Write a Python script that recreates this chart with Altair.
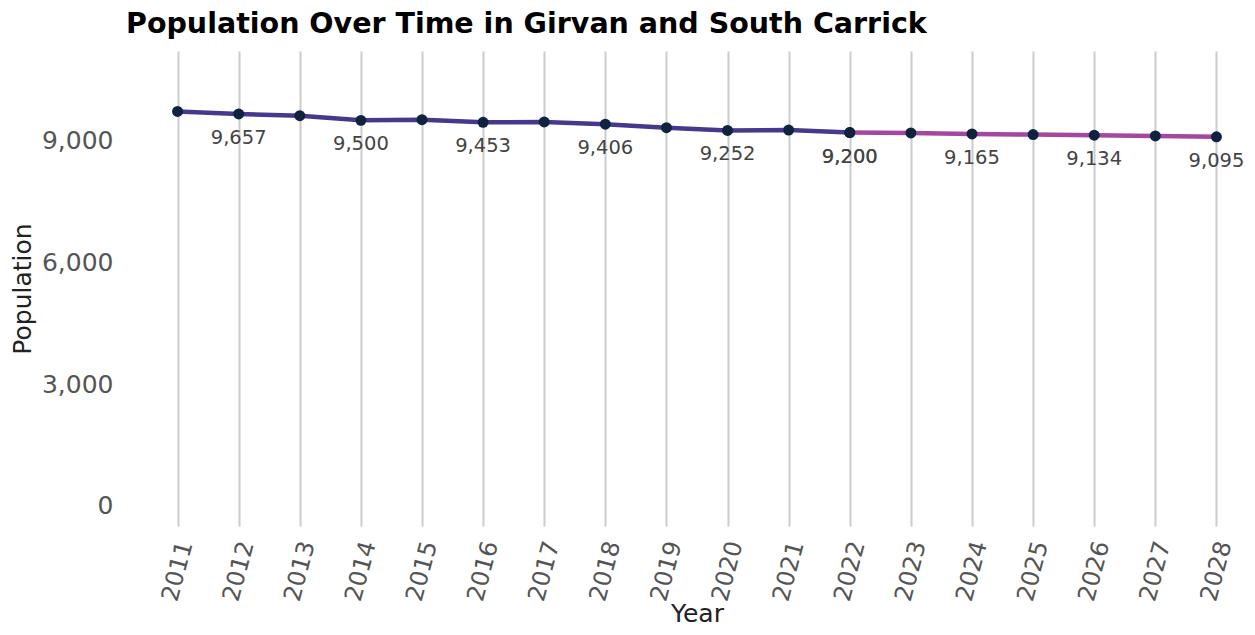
import altair as alt
import pandas as pd

# ---- data ----
years_hist = [2011, 2012, 2013, 2014, 2015, 2016, 2017, 2018, 2019, 2020, 2021, 2022]
pop_hist = [9720, 9657, 9615, 9500, 9517, 9453, 9460, 9406, 9320, 9252, 9262, 9200]
years_proj = [2022, 2023, 2024, 2025, 2026, 2027, 2028]
pop_proj = [9200, 9190, 9165, 9150, 9134, 9115, 9095]
label_years_hist = [2012, 2014, 2016, 2018, 2020, 2022]
label_years_proj = [2022, 2024, 2026, 2028]
series_names = ["Historical", "Projected"]
series_colors = ["#46388c", "#a3479f"]
x_ticks = list(range(2011, 2029))
y_ticks = [0, 3000, 6000, 9000]

rows = []
for yr, v in zip(years_hist, pop_hist):
    rows.append({"Year": yr, "Population": v, "Series": series_names[0],
                 "Label": yr in label_years_hist})
for yr, v in zip(years_proj, pop_proj):
    rows.append({"Year": yr, "Population": v, "Series": series_names[1],
                 "Label": yr in label_years_proj})
df = pd.DataFrame(rows)

FONT = "DejaVu Sans"

x_enc = alt.X(
    "Year:Q",
    scale=alt.Scale(domain=[2010.5, 2028.5], nice=False, zero=False),
    axis=alt.Axis(
        values=x_ticks, format="d", labelAngle=285, labelAlign="center",
        labelBaseline="middle", labelPadding=45, ticks=False, tickSize=0,
        domain=False, grid=True, gridColor="#cccccc", gridWidth=2,
        labelFontSize=24, labelColor="#555555", labelFont=FONT,
        labelOverlap=False, labelFlush=False,
        title="Year", titleFont=FONT, titleFontSize=25, titleFontWeight="normal",
        titleColor="#222222", titleY=87, titleBaseline="middle",
    ),
)
y_enc = alt.Y(
    "Population:Q",
    scale=alt.Scale(domain=[-500, 11210], nice=False, zero=False),
    axis=alt.Axis(
        values=y_ticks, format=",d", grid=False, ticks=False, tickSize=0,
        domain=False, labelPadding=34, labelFontSize=25, labelColor="#555555",
        labelFont=FONT,
        title="Population", titleFont=FONT, titleFontSize=25,
        titleFontWeight="normal", titleColor="#222222",
        titleX=-125, titleY=237.5, titleBaseline="middle", titleAngle=270,
    ),
)

base = alt.Chart(df)

lines = base.mark_line(strokeWidth=4.5).encode(
    x=x_enc, y=y_enc,
    color=alt.Color("Series:N", scale=alt.Scale(domain=series_names, range=series_colors), legend=None),
    detail="Series:N",
)
points = base.mark_circle(size=120, color="#0f2340", opacity=1).encode(x=x_enc, y=y_enc)
labels = base.transform_filter(alt.datum.Label).mark_text(
    dy=24, fontSize=19.5, color="#444444", font=FONT, baseline="middle", align="center"
).encode(x=x_enc, y=y_enc, text=alt.Text("Population:Q", format=","))

chart = alt.layer(lines, points, labels).properties(
    width=1100,
    height=475,
    title=alt.TitleParams(
        "Population Over Time in Girvan and South Carrick",
        anchor="start", frame="group", font=FONT, fontSize=28.5, fontWeight="bold",
        color="#000000", dx=-21, offset=13,
    ),
    autosize=alt.AutoSizeParams(type="none"),
    padding={"left": 139, "top": 43, "right": 0, "bottom": 101},
).configure_view(stroke=None)

chart.save("out.html", embed_options={"renderer": "svg", "actions": False})
